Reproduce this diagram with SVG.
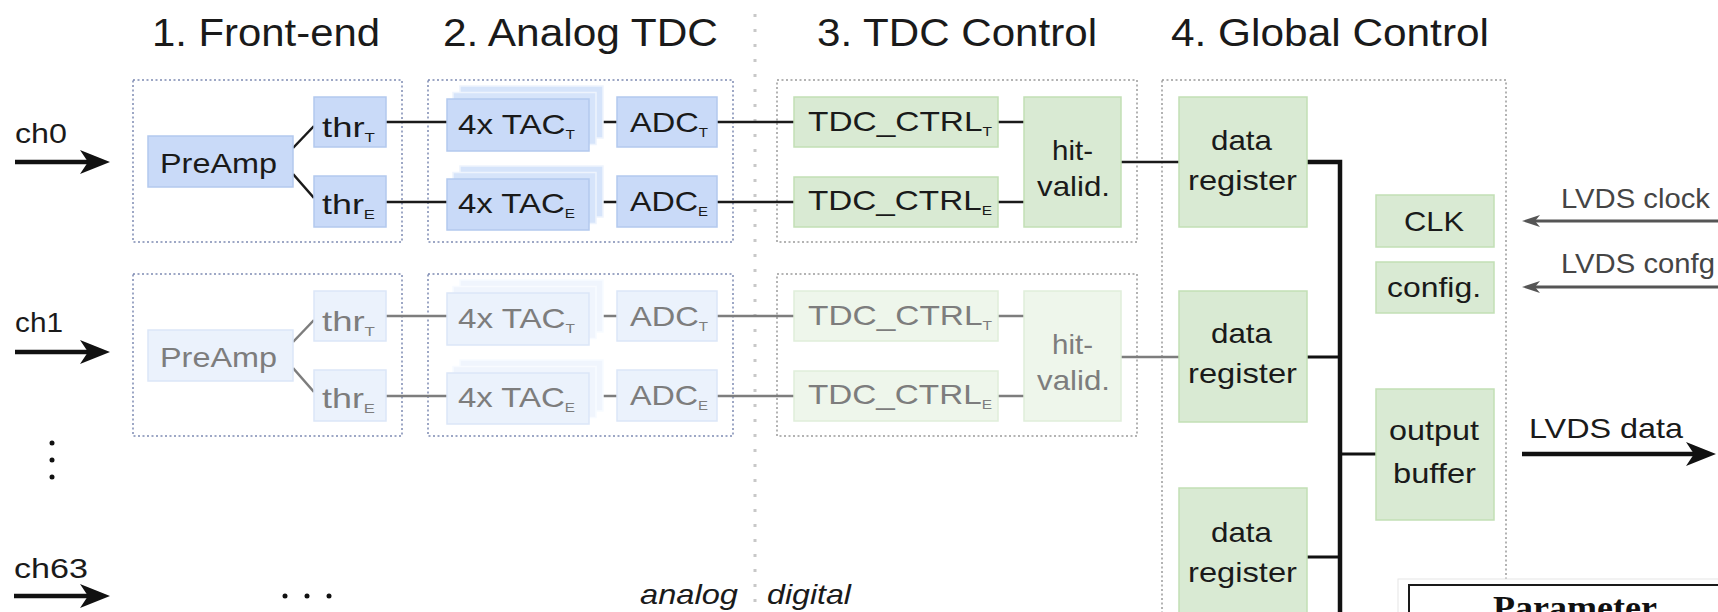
<svg xmlns="http://www.w3.org/2000/svg" width="1718" height="612" viewBox="0 0 1718 612">
<defs>
<style>
.t{font-family:"Liberation Sans",Arial,sans-serif;font-size:28px;fill:#1a1a1a}
.tf{fill:#7d7d7d}
.tg{fill:#454545}
.title{font-size:38px;fill:#1a1a1a}
.sub{font-size:13px}
.bx{fill:#c9daf8;stroke:#b3c9ee;stroke-width:1.5}
.bxf{fill:#ebf2fc;stroke:#dbe6f8;stroke-width:1.5}
.stk{fill:#d6e4fa;stroke:#eef4fd;stroke-width:1.5}
.stkf{fill:#f0f5fd;stroke:#f8fbff;stroke-width:1.5}
.gx{fill:#d9ead3;stroke:#c2dfb5;stroke-width:1.5}
.gxf{fill:#eef6eb;stroke:#e0eeda;stroke-width:1.5}
.dotb{fill:none;stroke:#7d8ab3;stroke-width:1.5;stroke-dasharray:2 2.5}
.dotg{fill:none;stroke:#9a9a9a;stroke-width:1.5;stroke-dasharray:2 2.5}
.ln{stroke:#1a1a1a;stroke-width:2.5;fill:none}
.lnf{stroke:#7d7d7d;stroke-width:2.5;fill:none}
.bus{stroke:#111;stroke-width:4.5;fill:none}
.stub{stroke:#111;stroke-width:3;fill:none}
.arr{stroke:#111;stroke-width:4.5;fill:none;marker-end:url(#ahb)}
.arrg{stroke:#555;stroke-width:3;fill:none;marker-end:url(#ahg)}
</style>
<marker id="ahb" markerUnits="userSpaceOnUse" viewBox="0 0 30 24" markerWidth="30" markerHeight="24" refX="20" refY="12" orient="auto">
<path d="M0,0 L30,12 L0,24 L8,12 Z" fill="#111"/>
</marker>
<marker id="ahg" markerUnits="userSpaceOnUse" viewBox="0 0 18 12" markerWidth="18" markerHeight="12" refX="8" refY="6" orient="auto">
<path d="M0,0 L18,6 L0,12 L5,6 Z" fill="#555"/>
</marker>
</defs>
<rect width="1718" height="612" fill="#fff"/>

<!-- titles -->
<g id="titles">
<text class="t title" x="152" y="46" textLength="228" lengthAdjust="spacingAndGlyphs">1. Front-end</text>
<text class="t title" x="443" y="46" textLength="275" lengthAdjust="spacingAndGlyphs">2. Analog TDC</text>
<text class="t title" x="817" y="46" textLength="280" lengthAdjust="spacingAndGlyphs">3. TDC Control</text>
<text class="t title" x="1171" y="46" textLength="318" lengthAdjust="spacingAndGlyphs">4. Global Control</text>
</g>

<!-- separator -->
<line id="separator" x1="755" y1="14" x2="755" y2="612" stroke="#c8c8c8" stroke-width="3" stroke-dasharray="3 12"/>

<!-- section boxes -->
<g id="sections">
<rect class="dotb" x="133" y="80" width="269" height="162"/>
<rect class="dotb" x="428" y="80" width="305" height="162"/>
<rect class="dotg" x="777" y="80" width="360" height="162"/>
<rect class="dotb" x="133" y="274" width="269" height="162"/>
<rect class="dotb" x="428" y="274" width="305" height="162"/>
<rect class="dotg" x="777" y="274" width="360" height="162"/>
<rect class="dotg" x="1162" y="80" width="344" height="600"/>
</g>

<!-- connectors -->
<g id="connectors">
<line class="arr" x1="15" y1="162" x2="100" y2="162"/>
<line class="arr" x1="15" y1="352" x2="100" y2="352"/>
<line class="arr" x1="14" y1="596" x2="100" y2="596"/>
<line class="ln" x1="293" y1="148" x2="314" y2="126"/>
<line class="ln" x1="293" y1="174" x2="314" y2="198"/>
<line class="ln" x1="386" y1="122" x2="447" y2="122"/>
<line class="ln" x1="386" y1="202" x2="447" y2="202"/>
<line class="ln" x1="597" y1="122" x2="617" y2="122"/>
<line class="ln" x1="597" y1="202" x2="617" y2="202"/>
<line class="ln" x1="717" y1="122" x2="794" y2="122"/>
<line class="ln" x1="717" y1="202" x2="794" y2="202"/>
<line class="ln" x1="998" y1="122" x2="1024" y2="122"/>
<line class="ln" x1="998" y1="202" x2="1024" y2="202"/>
<line class="ln" x1="1121" y1="162" x2="1179" y2="162"/>
<line class="lnf" x1="293" y1="342" x2="314" y2="320"/>
<line class="lnf" x1="293" y1="368" x2="314" y2="392"/>
<line class="lnf" x1="386" y1="316" x2="447" y2="316"/>
<line class="lnf" x1="386" y1="396" x2="447" y2="396"/>
<line class="lnf" x1="597" y1="316" x2="617" y2="316"/>
<line class="lnf" x1="597" y1="396" x2="617" y2="396"/>
<line class="lnf" x1="717" y1="316" x2="794" y2="316"/>
<line class="lnf" x1="717" y1="396" x2="794" y2="396"/>
<line class="lnf" x1="998" y1="316" x2="1024" y2="316"/>
<line class="lnf" x1="998" y1="396" x2="1024" y2="396"/>
<line class="lnf" x1="1121" y1="357" x2="1179" y2="357"/>
<path class="bus" d="M1307,162 H1340 V620"/>
<line class="stub" x1="1307" y1="357" x2="1340" y2="357"/>
<line class="stub" x1="1307" y1="557" x2="1340" y2="557"/>
<line class="stub" x1="1340" y1="454" x2="1376" y2="454"/>
<line class="arrg" x1="1718" y1="221" x2="1532" y2="221"/>
<line class="arrg" x1="1718" y1="287" x2="1532" y2="287"/>
<line class="arr" x1="1522" y1="454" x2="1706" y2="454"/>
</g>

<!-- row 0 nodes -->
<g id="preamp0"><rect class="bx" x="148" y="136" width="145" height="51"/><text class="t" x="160" y="173" textLength="117" lengthAdjust="spacingAndGlyphs">PreAmp</text></g>
<g id="thrT0"><rect class="bx" x="314" y="97" width="72" height="50"/><text class="t" x="322" y="137" textLength="53" lengthAdjust="spacingAndGlyphs">thr<tspan class="sub" dy="5">T</tspan></text></g>
<g id="thrE0"><rect class="bx" x="314" y="176" width="72" height="51"/><text class="t" x="322" y="214" textLength="53" lengthAdjust="spacingAndGlyphs">thr<tspan class="sub" dy="5">E</tspan></text></g>
<g id="tacT0"><rect class="stk" x="460" y="86" width="143" height="52"/><rect class="stk" x="453" y="92.5" width="143" height="52"/><rect class="bx" x="447" y="99" width="142" height="52"/><text class="t" x="458" y="134" textLength="117" lengthAdjust="spacingAndGlyphs">4x TAC<tspan class="sub" dy="5">T</tspan></text></g>
<g id="adcT0"><rect class="bx" x="617" y="97" width="100" height="50"/><text class="t" x="630" y="132" textLength="78" lengthAdjust="spacingAndGlyphs">ADC<tspan class="sub" dy="5">T</tspan></text></g>
<g id="tacE0"><rect class="stk" x="460" y="166" width="143" height="51"/><rect class="stk" x="453" y="172.5" width="143" height="51"/><rect class="bx" x="447" y="179" width="142" height="51"/><text class="t" x="458" y="213" textLength="117" lengthAdjust="spacingAndGlyphs">4x TAC<tspan class="sub" dy="5">E</tspan></text></g>
<g id="adcE0"><rect class="bx" x="617" y="176" width="100" height="51"/><text class="t" x="630" y="211" textLength="78" lengthAdjust="spacingAndGlyphs">ADC<tspan class="sub" dy="5">E</tspan></text></g>
<g id="ctrlT0"><rect class="gx" x="794" y="97" width="204" height="50"/><text class="t" x="808" y="131" textLength="184" lengthAdjust="spacingAndGlyphs">TDC_CTRL<tspan class="sub" dy="5">T</tspan></text></g>
<g id="ctrlE0"><rect class="gx" x="794" y="177" width="204" height="50"/><text class="t" x="808" y="210" textLength="184" lengthAdjust="spacingAndGlyphs">TDC_CTRL<tspan class="sub" dy="5">E</tspan></text></g>
<g id="hit0"><rect class="gx" x="1024" y="97" width="97" height="130"/><text class="t" x="1052" y="160" textLength="41" lengthAdjust="spacingAndGlyphs">hit-</text><text class="t" x="1037" y="196" textLength="73" lengthAdjust="spacingAndGlyphs">valid.</text></g>

<!-- row 1 nodes (faded) -->
<g id="preamp1"><rect class="bxf" x="148" y="330" width="145" height="51"/><text class="t tf" x="160" y="367" textLength="117" lengthAdjust="spacingAndGlyphs">PreAmp</text></g>
<g id="thrT1"><rect class="bxf" x="314" y="291" width="72" height="50"/><text class="t tf" x="322" y="331" textLength="53" lengthAdjust="spacingAndGlyphs">thr<tspan class="sub" dy="5">T</tspan></text></g>
<g id="thrE1"><rect class="bxf" x="314" y="370" width="72" height="51"/><text class="t tf" x="322" y="408" textLength="53" lengthAdjust="spacingAndGlyphs">thr<tspan class="sub" dy="5">E</tspan></text></g>
<g id="tacT1"><rect class="stkf" x="460" y="280" width="143" height="52"/><rect class="stkf" x="453" y="286.5" width="143" height="52"/><rect class="bxf" x="447" y="293" width="142" height="52"/><text class="t tf" x="458" y="328" textLength="117" lengthAdjust="spacingAndGlyphs">4x TAC<tspan class="sub" dy="5">T</tspan></text></g>
<g id="adcT1"><rect class="bxf" x="617" y="291" width="100" height="50"/><text class="t tf" x="630" y="326" textLength="78" lengthAdjust="spacingAndGlyphs">ADC<tspan class="sub" dy="5">T</tspan></text></g>
<g id="tacE1"><rect class="stkf" x="460" y="360" width="143" height="51"/><rect class="stkf" x="453" y="366.5" width="143" height="51"/><rect class="bxf" x="447" y="373" width="142" height="51"/><text class="t tf" x="458" y="407" textLength="117" lengthAdjust="spacingAndGlyphs">4x TAC<tspan class="sub" dy="5">E</tspan></text></g>
<g id="adcE1"><rect class="bxf" x="617" y="370" width="100" height="51"/><text class="t tf" x="630" y="405" textLength="78" lengthAdjust="spacingAndGlyphs">ADC<tspan class="sub" dy="5">E</tspan></text></g>
<g id="ctrlT1"><rect class="gxf" x="794" y="291" width="204" height="50"/><text class="t tf" x="808" y="325" textLength="184" lengthAdjust="spacingAndGlyphs">TDC_CTRL<tspan class="sub" dy="5">T</tspan></text></g>
<g id="ctrlE1"><rect class="gxf" x="794" y="371" width="204" height="50"/><text class="t tf" x="808" y="404" textLength="184" lengthAdjust="spacingAndGlyphs">TDC_CTRL<tspan class="sub" dy="5">E</tspan></text></g>
<g id="hit1"><rect class="gxf" x="1024" y="291" width="97" height="130"/><text class="t tf" x="1052" y="354" textLength="41" lengthAdjust="spacingAndGlyphs">hit-</text><text class="t tf" x="1037" y="390" textLength="73" lengthAdjust="spacingAndGlyphs">valid.</text></g>

<!-- global control nodes -->
<g id="dreg0"><rect class="gx" x="1179" y="97" width="128" height="130"/><text class="t" x="1211" y="150" textLength="61" lengthAdjust="spacingAndGlyphs">data</text><text class="t" x="1188" y="190" textLength="109" lengthAdjust="spacingAndGlyphs">register</text></g>
<g id="dreg1"><rect class="gx" x="1179" y="291" width="128" height="131"/><text class="t" x="1211" y="343" textLength="61" lengthAdjust="spacingAndGlyphs">data</text><text class="t" x="1188" y="383" textLength="109" lengthAdjust="spacingAndGlyphs">register</text></g>
<g id="dreg2"><rect class="gx" x="1179" y="488" width="128" height="160"/><text class="t" x="1211" y="542" textLength="61" lengthAdjust="spacingAndGlyphs">data</text><text class="t" x="1188" y="582" textLength="109" lengthAdjust="spacingAndGlyphs">register</text></g>
<g id="clk"><rect class="gx" x="1376" y="195" width="118" height="52"/><text class="t" x="1404" y="231" textLength="60" lengthAdjust="spacingAndGlyphs">CLK</text></g>
<g id="config"><rect class="gx" x="1376" y="262" width="118" height="51"/><text class="t" x="1387" y="297" textLength="94" lengthAdjust="spacingAndGlyphs">config.</text></g>
<g id="obuf"><rect class="gx" x="1376" y="389" width="118" height="131"/><text class="t" x="1389" y="440" textLength="90" lengthAdjust="spacingAndGlyphs">output</text><text class="t" x="1393" y="483" textLength="83" lengthAdjust="spacingAndGlyphs">buffer</text></g>

<!-- channel labels and io labels -->
<g id="labels">
<text class="t" x="15" y="143" textLength="52" lengthAdjust="spacingAndGlyphs">ch0</text>
<text class="t" x="15" y="332" textLength="48" lengthAdjust="spacingAndGlyphs">ch1</text>
<text class="t" x="14" y="578" textLength="74" lengthAdjust="spacingAndGlyphs">ch63</text>
<text class="t tg" x="1561" y="208" textLength="149" lengthAdjust="spacingAndGlyphs">LVDS clock</text>
<text class="t tg" x="1561" y="273" textLength="154" lengthAdjust="spacingAndGlyphs">LVDS confg</text>
<text class="t" x="1529" y="438" textLength="154" lengthAdjust="spacingAndGlyphs">LVDS data</text>
<text class="t" x="640" y="604" font-size="28" font-style="italic" fill="#1f3b87" textLength="98" lengthAdjust="spacingAndGlyphs">analog</text>
<text class="t" x="767" y="604" font-size="28" font-style="italic" fill="#2f6b22" textLength="84" lengthAdjust="spacingAndGlyphs">digital</text>
</g>

<g id="ellipsis" fill="#111">
<circle cx="52" cy="443" r="2.5"/><circle cx="52" cy="460" r="2.5"/><circle cx="52" cy="477" r="2.5"/>
<circle cx="285" cy="596" r="2.5"/><circle cx="307" cy="596" r="2.5"/><circle cx="329" cy="596" r="2.5"/>
</g>

<!-- parameter table (partially visible) -->
<g id="table">
<rect x="1398" y="579" width="330" height="40" fill="#fff" stroke="#e6e6e6" stroke-width="1"/>
<rect x="1409" y="585" width="330" height="60" fill="#fff" stroke="#1a1a1a" stroke-width="2"/>
<text x="1493" y="619" font-family="'Liberation Serif','Times New Roman',serif" font-weight="bold" font-size="34" fill="#111" textLength="164" lengthAdjust="spacingAndGlyphs">Parameter</text>
</g>
</svg>
